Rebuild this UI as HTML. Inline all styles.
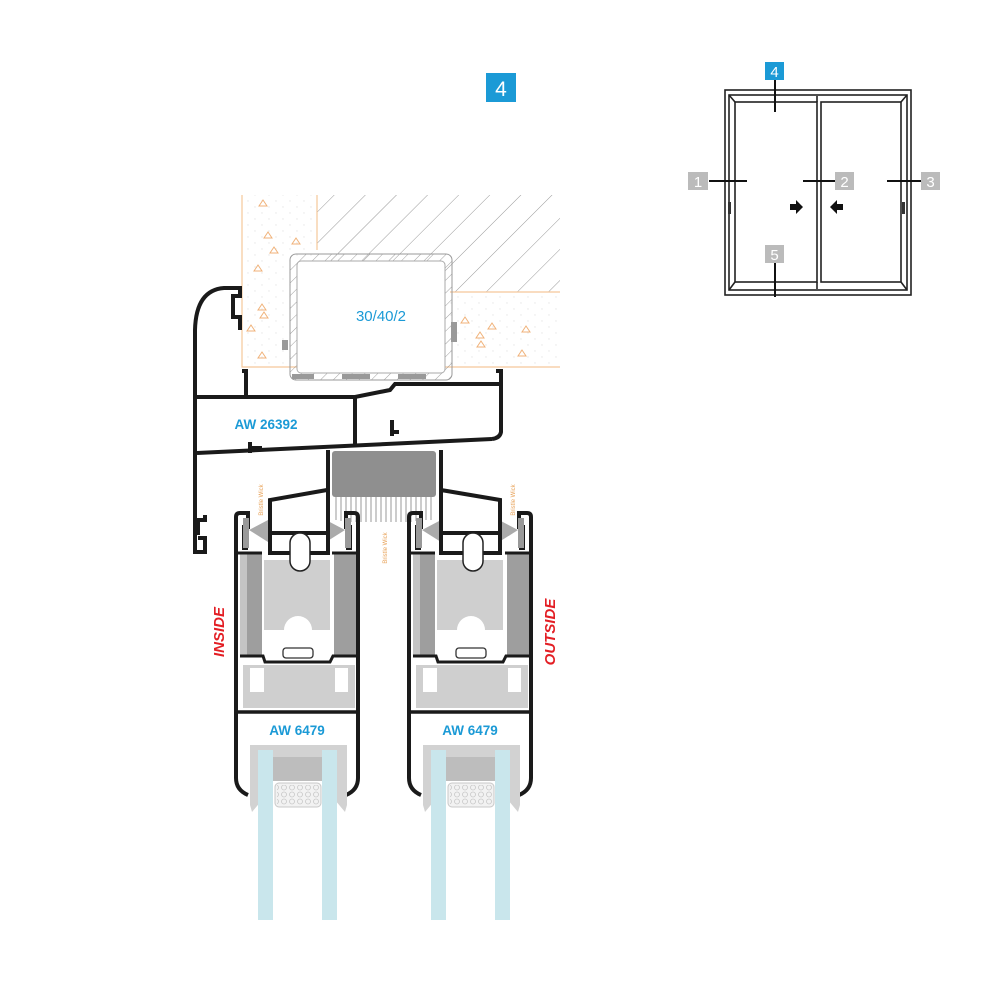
<!DOCTYPE html>
<html><head><meta charset="utf-8"><style>
html,body{margin:0;padding:0;background:#fff;}
svg{display:block;}
text{font-family:"Liberation Sans",sans-serif;}
</style></head><body>
<svg width="1000" height="1000" viewBox="0 0 1000 1000" xmlns="http://www.w3.org/2000/svg">
<defs>
<pattern id="hatch" patternUnits="userSpaceOnUse" width="22" height="22" patternTransform="rotate(45)">
<line x1="0" y1="0" x2="0" y2="22" stroke="#999" stroke-width="1"/>
</pattern>
<pattern id="hatch2" patternUnits="userSpaceOnUse" width="9" height="9" patternTransform="rotate(45)">
<line x1="0" y1="0" x2="0" y2="9" stroke="#888" stroke-width="0.8"/>
</pattern>
<pattern id="dots" patternUnits="userSpaceOnUse" width="14" height="12">
<circle cx="3" cy="3" r="0.7" fill="#e6e6e6"/><circle cx="10" cy="9" r="0.7" fill="#e6e6e6"/>
</pattern>
<pattern id="bub" patternUnits="userSpaceOnUse" width="8" height="7">
<circle cx="4" cy="3.5" r="2.5" fill="none" stroke="#c8c8c8" stroke-width="0.8"/>
</pattern>
<g id="sash">
  <rect x="240" y="553" width="22" height="103" fill="#9e9e9e"/>
  <rect x="334" y="553" width="22" height="103" fill="#9e9e9e"/>
  <rect x="240" y="553" width="7" height="103" fill="#c4c4c4"/>
  <path d="M264 560 H330 V630 H312 A14 14 0 0 0 284 630 H264 Z" fill="#cfcfcf"/>
  <path d="M243 665 H355 V708 H243 Z M250 668 V692 H264 V668 Z M335 668 V692 H348 V668 Z" fill="#cfcfcf" fill-rule="evenodd"/>
  <rect x="283" y="648" width="30" height="10" rx="3" fill="#fff" stroke="#333" stroke-width="1.3"/>
  <path d="M248 795 Q236 790 236 778 V517 Q236 513 240 513 H248 V527 H244 V548 H248" fill="none" stroke="#1a1a1a" stroke-width="4"/>
  <path d="M346 795 Q358 790 358 778 V517 Q358 513 354 513 H346 V527 H350 V548 H346" fill="none" stroke="#1a1a1a" stroke-width="4"/>
  <rect x="243" y="518" width="6" height="30" fill="#999"/>
  <rect x="345" y="518" width="6" height="30" fill="#999"/>
  <path d="M249 530 L268 520 V542 Z" fill="#aaa"/>
  <path d="M345 530 L326 520 V542 Z" fill="#aaa"/>
  <path d="M236 553 H262" stroke="#1a1a1a" stroke-width="3"/>
  <path d="M332 553 H358" stroke="#1a1a1a" stroke-width="3"/>
  <path d="M240 656 H263 L265 662 H330 L333 656 H356" fill="none" stroke="#1a1a1a" stroke-width="3"/>
  <path d="M236 712 H358" stroke="#1a1a1a" stroke-width="3.5"/>
  <path d="M250 745 H347 V805 L345 812 L335 800 V757 H262 V800 L252 812 L250 805 Z" fill="#d2d2d2"/>
  <rect x="273" y="757" width="50" height="24" fill="#bdbdbd"/>
  <rect x="275" y="783" width="46" height="24" rx="4" fill="#f2f2f2" stroke="#c8c8c8"/>
  <rect x="277" y="785" width="42" height="20" fill="url(#bub)"/>
  <rect x="258" y="750" width="15" height="170" fill="#c9e6ec"/>
  <rect x="322" y="750" width="15" height="170" fill="#c9e6ec"/>
  <text x="297" y="735" font-size="13.5" font-weight="bold" fill="#1b9ad6" text-anchor="middle">AW 6479</text>
</g>
</defs>

<rect x="486" y="73" width="30" height="29" fill="#1b9ad6"/>
<text x="501" y="96" font-size="21" fill="#fff" text-anchor="middle">4</text>

<rect x="242" y="195" width="318" height="172" fill="url(#dots)"/>
<rect x="317" y="195" width="243" height="97" fill="#fff"/>
<rect x="317" y="195" width="243" height="97" fill="url(#hatch)"/>
<path d="M242 195 V367 H560 M317 195 V250 M450 292 H560" fill="none" stroke="#f5c79a" stroke-width="1.2"/>
<g fill="none" stroke="#f0b27a" stroke-width="1">
<path d="M263 200 l4 6 h-8z M268 232 l4 6 h-8z M296 238 l4 6 h-8z M274 247 l4 6 h-8z M258 265 l4 6 h-8z M262 304 l4 6 h-8z M264 312 l4 6 h-8z M251 325 l4 6 h-8z M262 352 l4 6 h-8z M465 317 l4 6 h-8z M492 323 l4 6 h-8z M480 332 l4 6 h-8z M526 326 l4 6 h-8z M481 341 l4 6 h-8z M522 350 l4 6 h-8z"/>
</g>
<rect x="290" y="254" width="162" height="126" rx="6" fill="url(#hatch2)" stroke="#999" stroke-width="1"/>
<rect x="297" y="261" width="148" height="112" rx="4" fill="#fff" stroke="#aaa"/>
<rect x="282" y="340" width="6" height="10" fill="#999"/>
<rect x="451" y="322" width="6" height="20" fill="#999"/>
<rect x="292" y="374" width="22" height="5" fill="#999"/>
<rect x="342" y="374" width="28" height="5" fill="#999"/>
<rect x="398" y="374" width="28" height="5" fill="#999"/>
<text x="381" y="321" font-size="15" fill="#1b9ad6" text-anchor="middle">30/40/2</text>

<g fill="none" stroke="#1a1a1a" stroke-width="4">
<path d="M240 330 V317 H233 V296 H240 V288 H224 Q196 290 195 330 V552 H205 V538 H198"/>
<path d="M198 535 V520 H205 V515"/>
<path d="M242 371 H246 V396"/>
<path d="M496 371 H501 V432 Q500 438 492 439"/>
<path d="M197 397 H355 L390 390 L395 384 H500"/>
<path d="M197 453 L492 439"/>
<path d="M355 398 V447"/>
<path d="M392 420 V436 M392 432 H399"/>
<path d="M250 453 V442 M250 448 H262"/>
</g>
<text x="266" y="429" font-size="13.5" font-weight="bold" fill="#1b9ad6" text-anchor="middle">AW 26392</text>

<rect x="332" y="451" width="104" height="46" rx="3" fill="#8f8f8f"/>
<g stroke="#999" stroke-width="1">
<path d="M336 497 V520 M341 497 V521 M346 497 V522 M351 497 V522 M356 497 V522 M361 497 V522 M366 497 V522 M371 497 V522 M376 497 V522 M381 497 V522 M386 497 V522 M391 497 V522 M396 497 V522 M401 497 V522 M406 497 V522 M411 497 V522 M416 497 V521 M421 497 V520 M426 497 V520 M431 497 V520"/>
</g>

<use href="#sash"/>
<use href="#sash" transform="translate(173 0)"/>

<!-- interlocks -->
<g fill="none" stroke="#1a1a1a" stroke-width="4">
<path d="M270 555 V500 L327 490 M328 450 V555 M270 533 H328 M270 553 H328"/>
<path d="M500 555 V500 L441 490 M441 450 V555 M441 533 H500 M441 553 H500"/>
</g>
<rect x="290" y="533" width="20" height="38" rx="10" fill="#fff" stroke="#222" stroke-width="1.5"/>
<rect x="463" y="533" width="20" height="38" rx="10" fill="#fff" stroke="#222" stroke-width="1.5"/>

<text transform="translate(224 632) rotate(-90)" font-size="15" font-weight="bold" font-style="italic" fill="#e31e24" text-anchor="middle">INSIDE</text>
<text transform="translate(555 632) rotate(-90)" font-size="15" font-weight="bold" font-style="italic" fill="#e31e24" text-anchor="middle">OUTSIDE</text>
<text transform="translate(263 500) rotate(-90)" font-size="6" fill="#e8a35a" text-anchor="middle">Bristle Wick</text>
<text transform="translate(387 548) rotate(-90)" font-size="6" fill="#e8a35a" text-anchor="middle">Bristle Wick</text>
<text transform="translate(515 500) rotate(-90)" font-size="6" fill="#e8a35a" text-anchor="middle">Bristle Wick</text>

<g fill="none" stroke="#222" stroke-width="1.6">
<rect x="725" y="90" width="186" height="205"/>
<rect x="729" y="95" width="178" height="195"/>
<rect x="735" y="102" width="82" height="180"/>
<rect x="821" y="102" width="80" height="180"/>
<path d="M729 95 L735 102 M817 102 L817 96 M907 95 L901 102 M729 290 L735 282 M907 290 L901 282 M817 282 V289"/>
</g>
<g stroke="#111" stroke-width="2">
<path d="M709 181 H747 M803 181 H835 M887 181 H921 M775 80 V112 M775 263 V297"/>
</g>
<rect x="728" y="202" width="3" height="12" fill="#333"/>
<rect x="902" y="202" width="3" height="12" fill="#333"/>
<path d="M790 204 h6 v-4 l7 7 l-7 7 v-4 h-6z" fill="#111"/>
<path d="M843 204 h-6 v-4 l-7 7 l7 7 v-4 h6z" fill="#111"/>
<rect x="765" y="62" width="19" height="18" fill="#1b9ad6"/>
<text x="774.5" y="77" font-size="15" fill="#fff" text-anchor="middle">4</text>
<rect x="688" y="172" width="20" height="18" fill="#bbb"/>
<text x="698" y="187" font-size="15" fill="#fff" text-anchor="middle">1</text>
<rect x="835" y="172" width="19" height="18" fill="#bbb"/>
<text x="844.5" y="187" font-size="15" fill="#fff" text-anchor="middle">2</text>
<rect x="921" y="172" width="19" height="18" fill="#bbb"/>
<text x="930.5" y="187" font-size="15" fill="#fff" text-anchor="middle">3</text>
<rect x="765" y="245" width="19" height="18" fill="#bbb"/>
<text x="774.5" y="260" font-size="15" fill="#fff" text-anchor="middle">5</text>
</svg>
</body></html>
